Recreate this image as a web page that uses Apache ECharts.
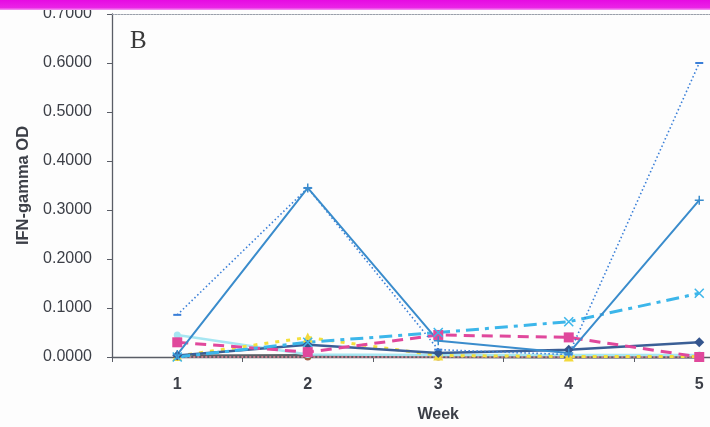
<!DOCTYPE html>
<html>
<head>
<meta charset="utf-8">
<script src="https://cdn.jsdelivr.net/npm/echarts@6/dist/echarts.min.js"></script>
<style>
  html, body { margin: 0; padding: 0; background: #fdfdfd; overflow: hidden; width: 710px; height: 427px; }
  /* the plot area runs on past the right edge of the page */
  #chart { width: 765px; height: 427px; }
</style>
</head>
<body>
<div id="chart"></div>
<script>
// Weeks on the category axis
const weeks = ['1', '2', '3', '4', '5'];
const yTicks = [0, 0.1, 0.2, 0.3, 0.4, 0.5, 0.6, 0.7];

// IFN-gamma OD per animal / group, one array per line
const navyDiamond   = [0.003, 0.025, 0.008, 0.015, 0.030];
const pinkSquare    = [0.030, 0.010, 0.045, 0.040, 0.000];
const yellowTri     = [0.002, 0.040, 0.003, 0.001, 0.001];
const cyanCross     = [0.000, 0.030, 0.050, 0.072, 0.130];
const paleCyan      = [0.045, 0.005, 0.004, 0.004, 0.004];
const maroonCircle  = [0.000, 0.000, 0.000, 0.000, 0.000];
const greyFlat      = [0.002, 0.003, 0.001, 0.000, 0.000];
const bluePlus      = [0.005, 0.345, 0.033, 0.008, 0.320];
const blueDotted    = [0.086, 0.345, 0.015, 0.005, 0.600];

const X_PATH = 'path://M0,0L10,10M10,0L0,10';
const PLUS_PATH = 'path://M5,0L5,10M0,5L10,5';

function line(name, data, color, opts) {
  return Object.assign({
    name: name,
    type: 'line',
    data: data,
    symbol: 'none',
    symbolSize: 8,
    clip: false,
    lineStyle: { color: color, width: 2 },
    itemStyle: { color: color },
    animation: false
  }, opts);
}

const chart = echarts.init(document.getElementById('chart'), null, { renderer: 'canvas' });

chart.setOption({
  backgroundColor: '#fdfdfd',
  animation: false,
  grid: { left: 112, top: 14, bottom: 70, right: 0.5, outerBoundsMode: 'none' },
  xAxis: [{
    type: 'category',
    data: weeks,
    boundaryGap: true,
    name: 'Week',
    nameLocation: 'middle',
    nameGap: 50,
    nameTextStyle: {
      fontFamily: 'Liberation Sans', fontSize: 16, fontWeight: 'bold', color: '#3c3f47'
    },
    axisLine: { lineStyle: { color: '#5a5d66', width: 1.3 } },
    axisTick: { show: true, length: 5, inside: false, lineStyle: { color: '#5a5d66' } },
    axisLabel: {
      margin: 20, fontFamily: 'Liberation Sans', fontSize: 16,
      fontWeight: 'bold', color: '#3c3f47'
    },
    splitLine: { show: false }
  }, {
    // thin frame line along the top of the plot area
    type: 'category',
    data: weeks,
    position: 'top',
    axisLine: { lineStyle: { color: '#9aa0aa', width: 1, type: [2, 1] } },
    axisTick: { show: false },
    axisLabel: { show: false }
  }],
  yAxis: {
    type: 'value',
    min: yTicks[0],
    max: yTicks[yTicks.length - 1],
    interval: 0.1,
    name: 'IFN-gamma OD',
    nameLocation: 'middle',
    nameGap: 79,
    nameTextStyle: {
      fontFamily: 'Liberation Sans', fontSize: 16.5, fontWeight: 'bold', color: '#3c3f47'
    },
    axisLine: { show: true, lineStyle: { color: '#5a5d66', width: 1.3 } },
    axisTick: { show: true, length: 5, lineStyle: { color: '#5a5d66' } },
    axisLabel: {
      margin: 20, fontFamily: 'Liberation Sans', fontSize: 16, color: '#3c3f47',
      formatter: v => v.toFixed(4)
    },
    splitLine: { show: false }
  },
  graphic: [
    {
      type: 'rect', left: 0, top: 0, z: 100,
      shape: { width: 765, height: 10 },
      style: {
        fill: new echarts.graphic.LinearGradient(0, 0, 0, 1, [
          { offset: 0, color: '#e60ae2' },
          { offset: 0.75, color: '#ea22e6' },
          { offset: 1, color: '#f49af2' }
        ])
      }
    },
    {
      type: 'text', left: 130, top: 29, z: 100,
      style: { text: 'B', font: '25px "Liberation Serif"', fill: '#3a3a3a' }
    }
  ],
  series: [
    line('grey', greyFlat, '#5c5f66', { lineStyle: { color: '#5c5f66', width: 3 } }),
    line('maroon', maroonCircle, '#b0566a', {
      symbol: 'circle', symbolSize: 7,
      lineStyle: { color: '#c47a8a', width: 2, type: [2, 2] },
      itemStyle: { color: '#a0604a' }
    }),
    line('pale cyan', paleCyan, '#a6e6f2', {
      symbol: 'circle', symbolSize: 7,
      lineStyle: { color: '#a6e6f2', width: 2.5 },
      itemStyle: { color: '#a6e6f2' }
    }),
    line('yellow', yellowTri, '#f3e03c', {
      symbol: 'triangle', symbolSize: 10,
      lineStyle: { color: '#f3e03c', width: 3, type: [4, 7] },
      itemStyle: { color: '#f3d93c' }
    }),
    line('navy', navyDiamond, '#34558e', {
      symbol: 'diamond', symbolSize: 10,
      lineStyle: { color: '#3b5f96', width: 2.5 },
      itemStyle: { color: '#34558e' }
    }),
    line('pink', pinkSquare, '#e0489c', {
      symbol: 'rect', symbolSize: 10,
      lineStyle: { color: '#e0489c', width: 3, type: [11, 7] },
      itemStyle: { color: '#e0489c' }
    }),
    line('cyan', cyanCross, '#3cb6ea', {
      symbol: X_PATH, symbolSize: 9,
      lineStyle: { color: '#3cb6ea', width: 3, type: [13, 6, 4, 6] },
      itemStyle: { color: 'none', borderColor: '#3cb6ea', borderWidth: 1.5 }
    }),
    line('blue dotted', blueDotted, '#3a7fd8', {
      symbol: 'rect', symbolSize: [8, 2],
      lineStyle: { color: '#3a7fd8', width: 1.6, type: [1.5, 2.5] },
      itemStyle: { color: '#3a7fd8' }
    }),
    line('blue', bluePlus, '#3a8ccc', {
      symbol: PLUS_PATH, symbolSize: 9,
      lineStyle: { color: '#3a8ccc', width: 2 },
      itemStyle: { color: 'none', borderColor: '#3a8ccc', borderWidth: 1.5 }
    })
  ]
});
</script>
</body>
</html>
